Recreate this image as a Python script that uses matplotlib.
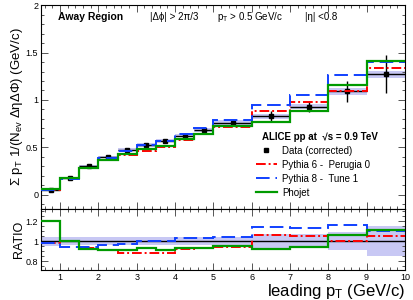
import numpy as np
import matplotlib
matplotlib.use("Agg")
import matplotlib.pyplot as plt
from matplotlib.lines import Line2D
from matplotlib.ticker import MultipleLocator

plt.rcParams['font.family'] = ['Liberation Sans', 'DejaVu Sans']
plt.rcParams['mathtext.fontset'] = 'custom'
plt.rcParams['mathtext.rm'] = 'Liberation Sans'
plt.rcParams['mathtext.it'] = 'Liberation Sans:italic'

# bin edges in leading pT (GeV/c)
edges = [0.5, 1, 1.5, 2, 2.5, 3, 3.5, 4, 4.5, 5, 6, 7, 8, 9, 10]

# corrected data and errors
data = [0.05, 0.18, 0.305, 0.40, 0.475, 0.525, 0.57, 0.625, 0.685, 0.76, 0.83, 0.93, 1.09, 1.27]
stat = [0.005, 0.008, 0.01, 0.012, 0.012, 0.013, 0.014, 0.016, 0.02, 0.03, 0.05, 0.06, 0.11, 0.2]
syst = [0.008, 0.01, 0.012, 0.014, 0.016, 0.017, 0.018, 0.02, 0.022, 0.024, 0.026, 0.03, 0.034, 0.04]
ratio_band = [0.045, 0.04, 0.04, 0.04, 0.04, 0.04, 0.04, 0.04, 0.04, 0.045, 0.07, 0.07, 0.09, 0.15]

# MC predictions
pythia6 = [0.049, 0.18, 0.284, 0.364, 0.418, 0.462, 0.502, 0.578, 0.64, 0.711, 0.88, 0.977, 1.09, 1.334]
pythia8 = [0.049, 0.169, 0.287, 0.384, 0.463, 0.525, 0.57, 0.644, 0.706, 0.794, 0.946, 1.051, 1.264, 1.40]
phojet = [0.06, 0.18, 0.282, 0.364, 0.432, 0.488, 0.519, 0.584, 0.64, 0.722, 0.764, 0.879, 1.155, 1.41]

edges = np.array(edges)
data = np.array(data)
stat = np.array(stat)
syst = np.array(syst)
ratio_band = np.array(ratio_band)
centers = 0.5 * (edges[1:] + edges[:-1])
halfw = 0.5 * np.diff(edges)

RED = '#ff0000'
BLUE = '#1040ff'
GREEN = '#009a00'
BAND = '#c8c8f4'
P6_LS = (0, (5, 1.5, 1, 1.5))
P8_LS = (0, (7, 3))

fig = plt.figure(figsize=(4.14, 3.0), dpi=100)
ax = fig.add_axes([0.099, 0.303, 0.879, 0.68])
axr = fig.add_axes([0.099, 0.10, 0.879, 0.203], sharex=ax)

# top panel
ax.stairs(data + syst, edges, baseline=data - syst, fill=True, color=BAND, lw=0, zorder=1)
ax.errorbar(centers, data, xerr=halfw, yerr=stat, fmt='s', ms=3, color='black',
            elinewidth=1.0, capsize=0, zorder=3)
ax.stairs(pythia6, edges, color=RED, lw=1.4, ls=P6_LS, baseline=None, zorder=4)
ax.stairs(pythia8, edges, color=BLUE, lw=1.4, ls=P8_LS, baseline=None, zorder=4)
ax.stairs(phojet, edges, color=GREEN, lw=1.6, baseline=None, zorder=5)

ax.set_xlim(0.5, 10)
ax.set_ylim(-0.15, 2)
ax.yaxis.set_major_locator(MultipleLocator(0.5))
ax.yaxis.set_minor_locator(MultipleLocator(0.1))
ax.yaxis.set_major_formatter(plt.FuncFormatter(lambda v, p: f'{v:g}'))
ax.set_ylabel('Σ p$_{\\mathrm{T}}$ 1/(N$_{\\mathrm{ev}}$ ΔηΔΦ) (GeV/c)', fontsize=9.5)
ax.yaxis.set_label_coords(-0.045, 0.5)
plt.setp(ax.get_xticklabels(), visible=False)

ax.text(0.047, 0.942, 'Away Region', transform=ax.transAxes, fontsize=7.5,
        fontweight='bold', va='center')
ax.text(0.30, 0.942, '|Δϕ| > 2π/3', transform=ax.transAxes, fontsize=7, va='center')
ax.text(0.485, 0.942, 'p$_{\\mathrm{T}}$ > 0.5 GeV/c', transform=ax.transAxes, fontsize=7, va='center')
ax.text(0.725, 0.942, '|η| <0.8', transform=ax.transAxes, fontsize=7, va='center')
ax.text(0.607, 0.352, 'ALICE pp at  √s = 0.9 TeV', transform=ax.transAxes, fontsize=7,
        fontweight='bold', va='center')

handles = [
    Line2D([], [], color='black', marker='s', ms=3, ls='none'),
    Line2D([], [], color=RED, lw=1.4, ls=P6_LS),
    Line2D([], [], color=BLUE, lw=1.4, ls=P8_LS),
    Line2D([], [], color=GREEN, lw=1.6),
]
labels = ['Data (corrected)', 'Pythia 6 -  Perugia 0', 'Pythia 8 -  Tune 1', 'Phojet']
ax.legend(handles, labels, loc='upper left', bbox_to_anchor=(0.59, 0.31), frameon=False,
          fontsize=7, handlelength=2.2, handletextpad=0.5, labelspacing=0.4,
          borderaxespad=0, borderpad=0)

# ratio panel
axr.stairs(1 + ratio_band, edges, baseline=1 - ratio_band, fill=True, color=BAND, lw=0, zorder=1)
axr.axhline(1, color='black', lw=1.0, zorder=2)
axr.stairs(np.array(pythia6) / data, edges, color=RED, lw=1.4, ls=P6_LS, baseline=None, zorder=4)
axr.stairs(np.array(pythia8) / data, edges, color=BLUE, lw=1.4, ls=P8_LS, baseline=None, zorder=4)
axr.stairs(np.array(phojet) / data, edges, color=GREEN, lw=1.6, baseline=None, zorder=5)

axr.set_ylim(0.71, 1.32)
axr.yaxis.set_major_locator(MultipleLocator(0.2))
axr.yaxis.set_minor_locator(MultipleLocator(0.05))
axr.yaxis.set_major_formatter(plt.FuncFormatter(lambda v, p: f'{v:g}'))
axr.set_ylabel('RATIO', fontsize=9)
axr.yaxis.set_label_coords(-0.045, 0.5)
axr.set_xlabel('leading p$_{\\mathrm{T}}$ (GeV/c)', fontsize=12, loc='right', labelpad=0)
axr.xaxis.set_major_locator(MultipleLocator(1))
axr.xaxis.set_minor_locator(MultipleLocator(0.2))

for a in (ax, axr):
    a.tick_params(which='both', direction='in', top=True, right=True, labelsize=6.5,
                  color='#555555', width=0.7)
    a.tick_params(which='major', length=5)
    a.tick_params(which='minor', length=2.5)
    a.tick_params(axis='x', pad=2)
    a.tick_params(axis='y', pad=2)
    for s in a.spines.values():
        s.set_linewidth(0.8)

fig.savefig('out.png', dpi=100)
